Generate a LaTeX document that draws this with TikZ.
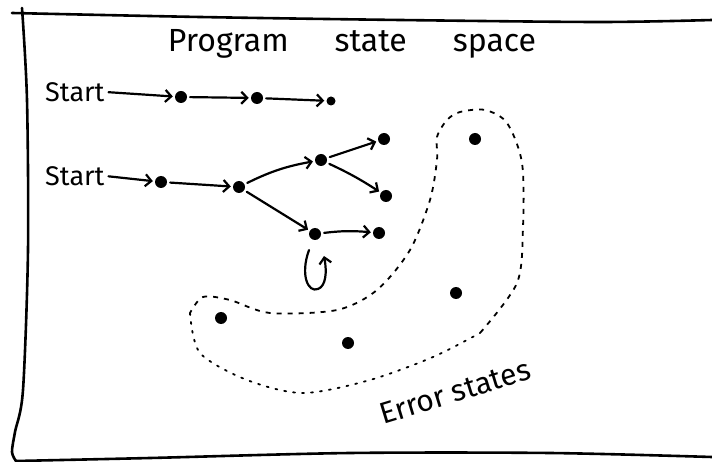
\documentclass[tikz,border=0pt]{standalone}
\usepackage{fontspec}
\setmainfont{Fira Sans}
\usetikzlibrary{arrows.meta}
\begin{document}
\begin{tikzpicture}[x=1pt,y=-1pt,
  dot/.style={circle,fill=black,inner sep=0pt,minimum size=12pt},
  arr/.style={line width=2.2pt,line cap=round,-{Straight Barb[length=6pt,width=12pt]},shorten >=2pt,shorten <=3pt},
  frame/.style={line width=2.6pt,line cap=round},
  lbl/.style={font=\fontsize{27}{29}\selectfont,inner sep=1pt},
  region/.style={line width=1.8pt,dash pattern=on 5pt off 6pt}
]
\useasboundingbox (0,0) rectangle (712,462);
% frame
\draw[frame] plot[smooth] coordinates {(12,13) (200,17) (400,20) (600,22) (712,20)};
\draw[frame] plot[smooth] coordinates {(22,8) (27,100) (28,250) (23,390) (15,432) (12,452) (16,461)};
\draw[frame] plot[smooth] coordinates {(16,461) (150,458) (350,453) (550,453) (712,457)};
% title
\node[font=\fontsize{32}{34}\selectfont] (title) at (352,44) {Program\hspace{46pt}state\hspace{46pt}space};
% labels
\node[lbl,anchor=west] (s1) at (44,92) {Start};
\node[lbl,anchor=west] (s2) at (44,176) {Start};
% dots
\node[dot] (a1) at (181,97) {};
\node[dot] (a2) at (257,98) {};
\node[dot,minimum size=9pt] (a3) at (331,101) {};
\node[dot] (b1) at (161,182) {};
\node[dot] (b2) at (239,187) {};
\node[dot] (b3) at (321,160) {};
\node[dot] (b4) at (384,139) {};
\node[dot] (b5) at (386,196) {};
\node[dot] (b6) at (315,234) {};
\node[dot] (b7) at (379,233) {};
\node[dot] (e1) at (475,139) {};
\node[dot] (e2) at (456,293) {};
\node[dot] (e3) at (221,318) {};
\node[dot] (e4) at (348,343) {};
% arrows
\draw[arr] (s1.east) -- (a1);
\draw[arr] (a1) -- (a2);
\draw[arr] (a2) -- (a3);
\draw[arr] (s2.east) -- (b1);
\draw[arr] (b1) -- (b2);
\draw[arr] (b2) to[bend left=8] (b3);
\draw[arr] (b3) -- (b4);
\draw[arr] (b3) to[bend left=4] (b5);
\draw[arr] (b2) -- (b6);
\draw[arr] (b6) to[bend left=6] (b7);
% self loop
\coordinate (l1) at (309,250);
\coordinate (l2) at (324,256);
\draw[line width=2.2pt,line cap=round,-{Straight Barb[length=6pt,width=12pt]}]
  (l1) .. controls (300,275) and (308,293) .. (318,289) .. controls (326,286) and (327,272) .. (l2);
% error region
\draw[region] plot[smooth] coordinates {(480,333) (517,283) (523,227) (522,163) (507,123) (485,110) (460,112) (447,120) (437,137) (437,160) (430,200) (410,250) (377,290) (337,310) (270,313) (230,300) (203,297) (190,313)};
\draw[line width=1.8pt,dash pattern=on 2pt off 7pt,line cap=round] plot[smooth] coordinates {(190,313) (200,353) (247,380) (303,393) (370,380) (433,357) (480,333)};
\node[font=\fontsize{30}{32}\selectfont,rotate=17] (err) at (455,392) {Error states};
\end{tikzpicture}
\end{document}
